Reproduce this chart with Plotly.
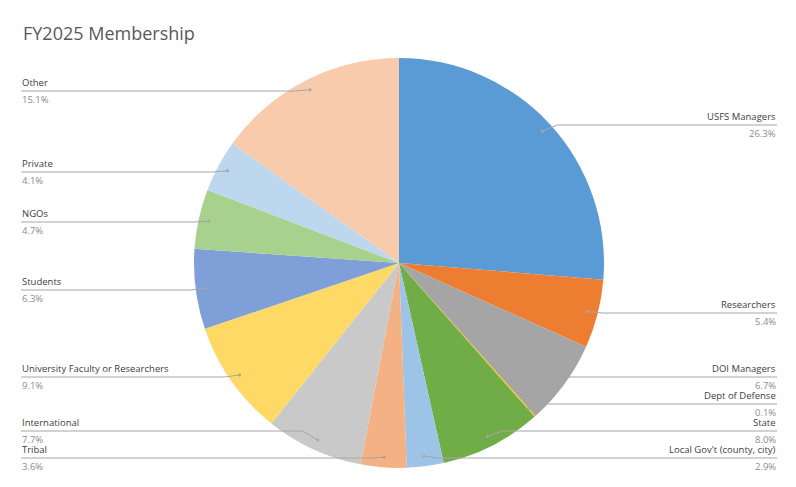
import math
import plotly.graph_objects as go

W, H = 796, 487
OX, OY = 9, 8  # compensate page offset

labels = ["USFS Managers", "Researchers", "DOI Managers", "Dept of Defense", "State",
          "Local Gov't (county, city)", "Tribal", "International",
          "University Faculty or Researchers", "Students", "NGOs", "Private", "Other"]
values = [26.3, 5.4, 6.7, 0.1, 8.0, 2.9, 3.6, 7.7, 9.1, 6.3, 4.7, 4.1, 15.1]
colors = ["#5B9BD5", "#ED7D31", "#A5A5A5", "#FFC000", "#70AD47", "#9DC3E6", "#F4B183",
          "#C9C9C9", "#FFD966", "#7F9FD9", "#A9D18E", "#BDD7EE", "#F8CBAD"]
# label side and leader-line height (pixels from top)
sides = ["R", "R", "R", "R", "R", "R", "L", "L", "L", "L", "L", "L", "L"]
label_y = [125, 313, 377, 404, 431, 458, 458, 431, 377, 290, 222, 172, 91]

cx, cy, r = 400, 263, 205


def px(x):
    return (x - OX) / W


def py(y):
    return 1 - (y - OY) / H


fig = go.Figure(go.Pie(
    labels=labels, values=values, sort=False, direction="clockwise", rotation=0,
    marker=dict(colors=colors, line=dict(color="white", width=0)),
    textinfo="none", hoverinfo="label+percent", showlegend=False,
    domain=dict(x=[px(cx - r), px(cx + r)], y=[py(cy + r), py(cy - r)]),
))

shapes, annotations = [], []
total = sum(values)
cum = 0
for lab, v, side, ly in zip(labels, values, sides, label_y):
    th = 2 * math.pi * (cum + v / 2) / total
    cum += v
    ax = cx + r * 0.95 * math.sin(th)
    ay = cy - r * 0.95 * math.cos(th)
    if side == "L":
        ex, elbow = 22, ax - 15
    else:
        ex, elbow = 778, ax + 15
    shapes.append(dict(type="path", xref="paper", yref="paper",
                       path=f"M {px(ex)},{py(ly)} L {px(elbow)},{py(ly)} L {px(ax)},{py(ay)}",
                       line=dict(color="#A6A6A6", width=1)))
    shapes.append(dict(type="circle", xref="paper", yref="paper",
                       x0=px(ax - 1.5), x1=px(ax + 1.5), y0=py(ay + 1.5), y1=py(ay - 1.5),
                       fillcolor="#A6A6A6", line=dict(width=0)))
    anchor = "left" if side == "L" else "right"
    annotations.append(dict(x=px(ex), y=py(ly - 1), xref="paper", yref="paper",
                            text=lab, showarrow=False, xanchor=anchor, yanchor="bottom",
                            borderpad=0, font=dict(size=9.5, color="#404040")))
    annotations.append(dict(x=px(ex), y=py(ly + 1), xref="paper", yref="paper",
                            text=f"{v:.1f}%", showarrow=False, xanchor=anchor, yanchor="top",
                            borderpad=0, font=dict(size=9.5, color="#8C8C8C")))

annotations.append(dict(x=px(22), y=py(33), xref="paper", yref="paper",
                        text="FY2025 Membership", showarrow=False, xanchor="left",
                        yanchor="middle", font=dict(size=18, color="#595959")))

fig.update_layout(
    width=W, height=H, margin=dict(l=0, r=0, t=0, b=0),
    paper_bgcolor="white", plot_bgcolor="white",
    font=dict(family="Open Sans, Segoe UI, sans-serif"),
    shapes=shapes, annotations=annotations,
)
fig.write_html("out.html")
